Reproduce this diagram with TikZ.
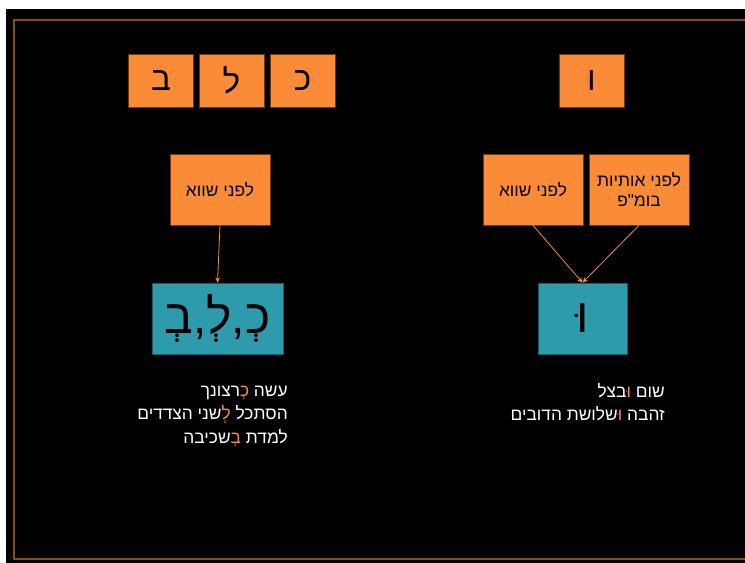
\documentclass[tikz,border=0pt]{standalone}
\usepackage{fontspec}
\setmainfont{Liberation Sans}
\newfontfamily\hebfont[Script=Hebrew]{Liberation Sans}
\TeXXeTstate=1
\usetikzlibrary{arrows.meta}

\definecolor{slideorange}{RGB}{250,140,56}
\definecolor{slideteal}{RGB}{46,155,172}
\definecolor{slideframe}{RGB}{139,74,22}
\definecolor{boxedge}{RGB}{110,55,15}
\definecolor{tealedge}{RGB}{25,90,100}

% the white text and the orange letters are set as two layers
\newcommand{\hidden}[1]{\phantom{#1}}

\tikzset{
  letterbox/.style={draw=boxedge, fill=slideorange, line width=0.5pt, inner sep=0pt,
    minimum width=48.75pt, minimum height=39.75pt, font=\hebfont\fontsize{25}{25}\selectfont},
  rulebox/.style={draw=boxedge, fill=slideorange, line width=0.5pt, inner sep=0pt,
    minimum width=75pt, minimum height=53.25pt, align=center,
    font=\hebfont\fontsize{13}{15.5}\selectfont},
  markbox/.style={draw=tealedge, fill=slideteal, line width=0.5pt, inner sep=0pt,
    minimum height=53.25pt, font=\hebfont\fontsize{36}{36}\selectfont},
  example/.style={text=white, align=right, inner sep=0pt,
    font=\hebfont\fontsize{13}{17.5}\selectfont},
  accent/.style={example, text=slideorange},
  pointer/.style={draw=slideorange, line width=0.6pt, -{Stealth[length=4pt,width=3.5pt]}}
}

\begin{document}
\begin{tikzpicture}[x=0.75pt, y=-0.75pt]
    \useasboundingbox (0,0) rectangle (745,563);
    \clip (0,0) rectangle (745,563);
    \fill[white] (0,0) rectangle (745,563);
    \fill[black] (6,9) rectangle (760,570);
    \draw[slideframe, line width=1.6pt] (14,20) rectangle (770,559);

    % letters
    \node[letterbox] (bet)   at (161,80.5) {\beginR ב\endR};
    \node[letterbox] (lamed) at (231.5,80.5) {\beginR ל\endR};
    \node[letterbox] (kaf)   at (302.5,80.5) {\beginR כ\endR};
    \node[letterbox] (vav)   at (591.5,80.5) {\beginR ו\endR};

    % rules
    \node[rulebox] (lsh)   at (220,189.5) {\beginR לפני שווא\endR};
    \node[rulebox] (rsh)   at (533,189.5) {\beginR לפני שווא\endR};
    \node[rulebox] (rbumf) at (639,189.5) {\beginR לפני אותיות\endR\\\beginR בומ"פ\endR};

    % vocalised forms
    \node[markbox, minimum width=98.25pt] (lteal) at (217.5,318.5) {\beginR כְ,לְ,בְ\endR};
    \node[markbox, minimum width=66.75pt] (rteal) at (582.5,318.5) {\beginR וּ\endR};

    \draw[pointer] (lsh.south) -- (lteal.north);
    \draw[pointer] (rsh.south) -- (rteal.north);
    \draw[pointer] (rbumf.south) -- (rteal.north);

    % examples
    \node[example, anchor=north east] (lex) at (288,386)
      {\beginR עשה \hidden{כְ}רצונך\endR\\
       \beginR הסתכל \hidden{לְ}שני הצדדים\endR\\
       \beginR למדת \hidden{בְ}שכיבה\endR};
    \node[accent, anchor=north east] (lexmark) at (lex.north east)
      {\beginR\hidden{עשה} כְ\hidden{רצונך}\endR\\
       \beginR\hidden{הסתכל} לְ\hidden{שני} \hidden{הצדדים}\endR\\
       \beginR\hidden{למדת} בְ\hidden{שכיבה}\endR};
    \node[example, anchor=north east] (rex) at (665,383)
      {\beginR שום \hidden{וּ}בצל\endR\\
       \beginR זהבה \hidden{וּ}שלושת הדובים\endR};
    \node[accent, anchor=north east] (rexmark) at (rex.north east)
      {\beginR\hidden{שום} וּ\hidden{בצל}\endR\\
       \beginR\hidden{זהבה} וּ\hidden{שלושת} \hidden{הדובים}\endR};
\end{tikzpicture}
\end{document}
